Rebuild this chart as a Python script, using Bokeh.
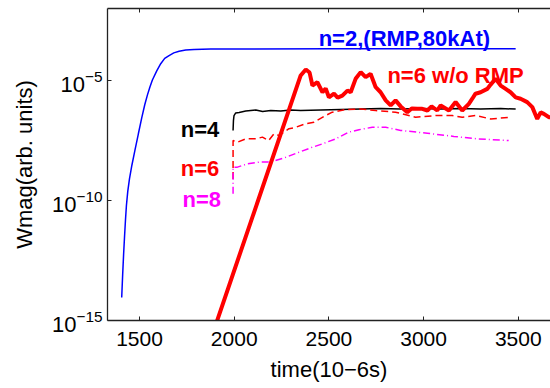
import numpy as np
from bokeh.plotting import figure
from bokeh.models import FixedTicker, LinearAxis, Label, Range1d
from bokeh.embed import file_html
from bokeh.resources import INLINE

# ---- data (time in 1e-6 s, log10 of Wmag) ----
x_ticks = [1500, 2000, 2500, 3000, 3500]
y_ticks = [1e-15, 1e-10, 1e-5]

n2_t = [1406, 1411, 1416, 1421, 1426, 1431, 1438, 1447, 1460, 1476, 1494, 1512, 1528, 1542,
        1555, 1568, 1591, 1612, 1633, 1656, 1681, 1709, 1744, 1788, 1876, 2500, 3000, 3486]
n2_logw = [-14.04, -13.1, -12.25, -11.5, -10.8, -10.2, -9.62, -9.1, -8.52, -7.9, -7.22, -6.55,
           -6.0, -5.6, -5.27, -4.98, -4.6, -4.30, -4.08, -3.96, -3.85, -3.78, -3.73, -3.71,
           -3.69, -3.68, -3.68, -3.68]

n6wo_t = [1892, 2351, 2378, 2398, 2413, 2439, 2466, 2483, 2500, 2527, 2546, 2571, 2598, 2615,
          2641, 2668, 2694, 2720, 2747, 2773, 2800, 2826, 2852, 2879, 2914, 2937, 2967, 2993,
          3020, 3042, 3072, 3090, 3134, 3169, 3204, 3239, 3257, 3274, 3301, 3336, 3354, 3380,
          3407, 3433, 3459, 3486, 3512, 3547, 3574, 3600, 3618, 3635, 3661, 3697]
n6wo_logw = [-15.42, -4.79, -4.54, -4.67, -5.21, -5.07, -5.49, -5.33, -5.70, -5.55, -5.71, -5.63,
             -5.42, -5.49, -4.93, -4.65, -4.86, -4.72, -5.28, -5.49, -5.83, -6.04, -5.83, -6.08,
             -6.32, -6.17, -6.18, -6.18, -6.25, -6.08, -6.25, -6.04, -6.25, -5.90, -6.25, -5.97,
             -5.76, -5.55, -5.49, -5.35, -5.17, -4.93, -5.21, -5.35, -5.49, -5.70, -5.76, -5.90,
             -6.11, -6.60, -6.33, -6.39, -6.53, -6.54]

n4_t = [1994, 1996, 1999, 2008, 2026, 2061, 2114, 2150, 2193, 2246, 2298, 2351, 2457, 2562,
        2668, 2773, 2879, 2984, 3090, 3196, 3301, 3407, 3486]
n4_logw = [-7.08, -6.67, -6.46, -6.35, -6.33, -6.27, -6.23, -6.29, -6.25, -6.27, -6.23, -6.25,
           -6.23, -6.21, -6.19, -6.17, -6.19, -6.17, -6.19, -6.17, -6.19, -6.17, -6.19]

n6_t = [1994, 1994, 2017, 2061, 2114, 2149, 2182, 2210, 2237, 2289, 2325, 2378, 2421, 2483,
        2518, 2588, 2668, 2747, 2852, 2958, 3063, 3151, 3204, 3274, 3354, 3459]
n6_logw = [-9.10, -7.50, -7.57, -7.43, -7.43, -7.36, -7.50, -7.22, -7.29, -7.01, -6.95, -6.80,
           -6.74, -6.46, -6.32, -6.21, -6.19, -6.25, -6.32, -6.53, -6.46, -6.46, -6.53, -6.46,
           -6.60, -6.53]

n8_t = [1994, 1994, 2017, 2070, 2131, 2193, 2272, 2342, 2413, 2466, 2536, 2606, 2659, 2729,
        2800, 2879, 3020, 3160, 3284, 3449]
n8_logw = [-9.72, -8.61, -8.61, -8.47, -8.40, -8.40, -8.20, -7.99, -7.78, -7.64, -7.43, -7.15,
           -7.05, -6.95, -6.95, -7.08, -7.20, -7.33, -7.43, -7.50]

FONT = "Liberation Sans"

def w(a):
    return 10.0 ** np.asarray(a)

p = figure(width=550, height=388, output_backend="svg", toolbar_location=None,
           y_axis_type="log", x_range=Range1d(1331, 3670), y_range=Range1d(1e-15, 1e-2),
           min_border_left=107, min_border_top=8, min_border_right=0, min_border_bottom=68)
p.outline_line_color = None
p.grid.visible = False
p.background_fill_color = "white"
p.border_fill_color = "white"

p.line(n2_t, w(n2_logw), color="#0000ff", line_width=1.5)
p.line(n4_t, w(n4_logw), color="black", line_width=1.5)
p.line(n6_t, w(n6_logw), color="#ff0000", line_width=1.5, line_dash="7 4")
p.line(n8_t, w(n8_logw), color="#ff00ff", line_width=1.5, line_dash="7 3 1 3")
p.line(n6wo_t, w(n6wo_logw), color="#ff0000", line_width=4)

for ax in (p.xaxis[0], p.yaxis[0]):
    ax.major_tick_in = 4
    ax.major_tick_out = 0
    ax.minor_tick_in = 0
    ax.minor_tick_out = 0
    ax.axis_line_color = "#222222"
    ax.major_tick_line_color = "#222222"
    ax.axis_line_width = 1.3
    ax.major_label_text_font = FONT
    ax.major_label_text_color = "black"
    ax.axis_label_text_font = FONT
    ax.axis_label_text_font_size = "22px"
    ax.axis_label_text_font_style = "normal"
    ax.axis_label_text_color = "black"

p.xaxis[0].ticker = FixedTicker(ticks=x_ticks)
p.xaxis[0].major_label_standoff = 11
p.xaxis[0].major_label_text_font_size = "21px"
p.xaxis[0].axis_label = "time(10\u22126s)"
p.xaxis[0].axis_label_standoff = 8

p.yaxis[0].ticker = FixedTicker(ticks=y_ticks)
p.yaxis[0].major_label_standoff = 5
p.yaxis[0].major_label_text_font_size = "22px"
p.yaxis[0].axis_label = "Wmag(arb. units)"
p.yaxis[0].axis_label_standoff = 12

top = LinearAxis(ticker=FixedTicker(ticks=x_ticks),
                 major_label_overrides={t: "" for t in x_ticks},
                 major_label_text_font_size="1px",
                 major_tick_in=4, major_tick_out=0, minor_tick_in=0, minor_tick_out=0,
                 major_label_standoff=0, axis_line_color="#222222", axis_line_width=1.3,
                 major_tick_line_color="#222222")
p.add_layout(top, "above")

# series labels
def lab(x, ylog, text, color):
    p.add_layout(Label(x=x, y=10 ** ylog, text=text, text_color=color, text_font=FONT,
                       text_font_size="22px", text_font_style="bold",
                       text_baseline="alphabetic", text_align="left"))

lab(2446, -3.26, "n=2,(RMP,80kAt)", "#0000ff")
lab(2809, -4.79, "n=6 w/o RMP", "#ff0000")
lab(1718, -7.04, "n=4", "black")
lab(1718, -8.67, "n=6", "#ff0000")
lab(1727, -9.96, "n=8", "#ff00ff")

open("out.html", "w").write(file_html(p, INLINE))
